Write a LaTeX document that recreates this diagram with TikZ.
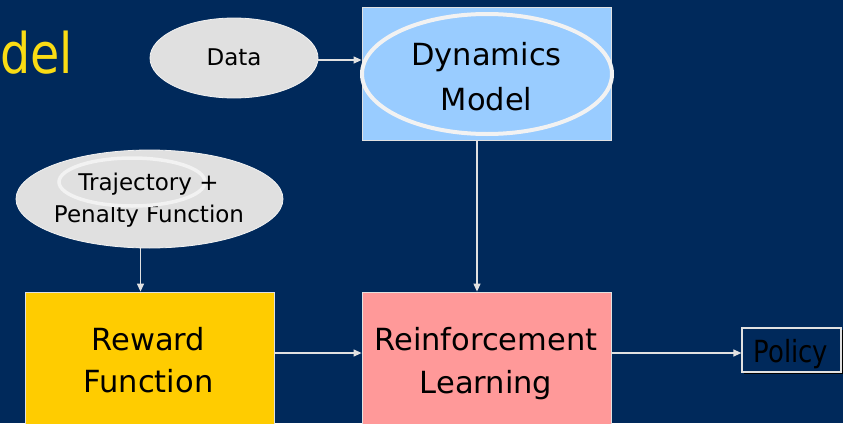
\documentclass[tikz,border=0pt]{standalone}
\usepackage{fontspec}
\setmainfont{DejaVu Sans}
\usetikzlibrary{shapes.geometric,arrows.meta}
\definecolor{bgnavy}{RGB}{0,41,91}
\definecolor{titleyellow}{RGB}{250,220,20}
\definecolor{rewardfill}{RGB}{255,204,0}
\definecolor{rlfill}{RGB}{255,153,153}
\definecolor{dynfill}{RGB}{153,204,255}
\definecolor{ovalfill}{RGB}{224,224,224}
\definecolor{ringcol}{RGB}{242,242,242}
\definecolor{linecol}{RGB}{225,225,225}
\tikzset{
  boxnode/.style={draw=linecol, line width=0.8pt, rectangle, inner sep=0pt},
  ovalnode/.style={ellipse, fill=ovalfill, draw=ringcol, line width=0.8pt, inner sep=0pt},
  ringnode/.style={ellipse, draw=ringcol, inner sep=0pt},
  bigtxt/.style={anchor=base, inner sep=0pt, font=\fontsize{30.5}{36}\selectfont, text=black},
  smalltxt/.style={anchor=base, inner sep=0pt, font=\fontsize{23}{28}\selectfont, text=black},
  arr/.style={draw=linecol, line width=1.2pt, -{Triangle[length=8pt,width=7pt]}},
}
\begin{document}
\begin{tikzpicture}[x=1pt,y=-1pt]
\fill[bgnavy] (0,0) rectangle (843,423);
\useasboundingbox (0,0) rectangle (843,423);

% title fragment
\node[anchor=base west, inner sep=0pt, text=titleyellow, font=\fontsize{56}{60}\selectfont] (title) at (0,73.5) {\scalebox{0.85}[1]{del}};

% Data oval
\node[ovalnode, minimum width=168pt, minimum height=80pt] (data) at (234,58) {};
\node[smalltxt] (datatxt) at (234,65) {Data};

% Dynamics model
\node[boxnode, fill=dynfill, minimum width=249pt, minimum height=133pt] (dyn) at (486.5,73.5) {};
\node[ringnode, line width=4pt, minimum width=250pt, minimum height=120pt] (dynring) at (487,74) {};
\node[bigtxt] (dyntxt1) at (486.5,65) {Dynamics};
\node[bigtxt] (dyntxt2) at (486.5,110) {Model};

% Trajectory + penalty oval
\node[ovalnode, minimum width=267pt, minimum height=98pt] (traj) at (149.5,199) {};
\node[smalltxt] (trajtxt2) at (149,222) {Penalty Function};
\node[ringnode, fill=ovalfill, line width=3.5pt, minimum width=146pt, minimum height=48pt] (trajring) at (132,182) {};
\node[smalltxt] (trajtxt1) at (148.5,190) {Trajectory +};

% Reward function
\node[boxnode, fill=rewardfill, minimum width=249pt, minimum height=138pt] (reward) at (149.5,361) {};
\node[bigtxt] (rewtxt1) at (148.5,350) {Reward};
\node[bigtxt] (rewtxt2) at (148.5,392) {Function};

% Reinforcement learning
\node[boxnode, fill=rlfill, minimum width=249pt, minimum height=138pt] (rl) at (486.5,361) {};
\node[bigtxt] (rltxt1) at (486,350) {Reinforcement};
\node[bigtxt] (rltxt2) at (486,393) {Learning};

% Policy
\fill[black] (744,330) rectangle (843,374);
\node[boxnode, fill=bgnavy, line width=1.2pt, minimum width=99pt, minimum height=44pt] (policy) at (791.5,350) {};
\node[bigtxt] (poltxt) at (791,362) {\scalebox{0.85}[1]{Policy}};

% connectors
\draw[arr] ([yshift=-2pt]data.east) -- ([yshift=-2pt]data.east -| dyn.west);
\draw[arr] ([xshift=-9.5pt]dyn.south) -- ([xshift=-9.5pt]rl.north);
\draw[arr] ([xshift=-9pt]traj.south) -- ([xshift=-9pt]traj.south |- reward.north);
\draw[arr] ([yshift=8pt]reward.east) -- ([yshift=8pt]rl.west);
\draw[arr] ([yshift=8pt]rl.east) -- ([yshift=8pt]rl.east -| policy.west);
\end{tikzpicture}
\end{document}
